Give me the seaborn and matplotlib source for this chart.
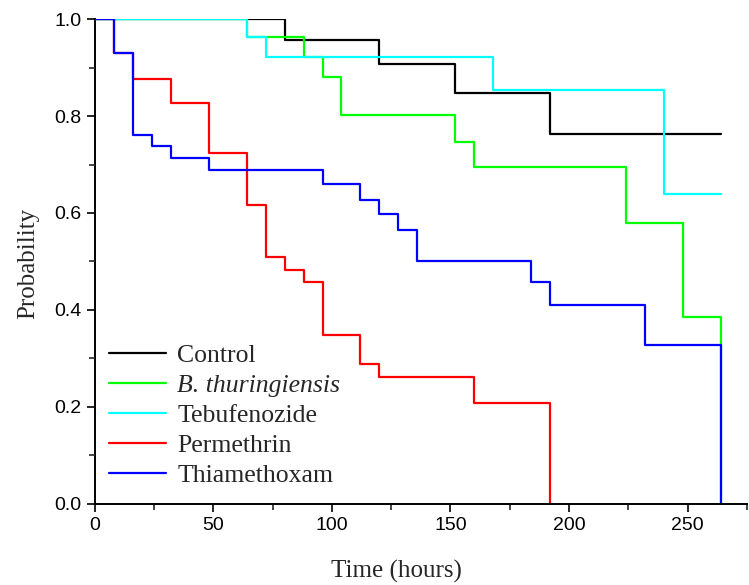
import numpy as np
import pandas as pd
import seaborn as sns
import matplotlib.pyplot as plt
from matplotlib.ticker import MultipleLocator

# survival curves (time in hours, probability)
control_t = [0, 80, 120, 152, 192, 264]
control_p = [1.0, 0.957, 0.907, 0.847, 0.763, 0.763]

bt_t = [0, 64, 88, 96, 104, 152, 160, 224, 248, 264]
bt_p = [1.0, 0.963, 0.922, 0.881, 0.803, 0.747, 0.695, 0.580, 0.386, 0.0]

tebu_t = [0, 64, 72, 168, 240, 264]
tebu_p = [1.0, 0.962, 0.922, 0.854, 0.639, 0.639]

perm_t = [0, 8, 16, 32, 48, 64, 72, 80, 88, 96, 112, 120, 160, 192]
perm_p = [1.0, 0.930, 0.877, 0.827, 0.724, 0.616, 0.509, 0.483, 0.457,
          0.349, 0.289, 0.261, 0.208, 0.0]

thia_t = [0, 8, 16, 24, 32, 48, 96, 112, 120, 128, 136, 184, 192, 232, 264]
thia_p = [1.0, 0.930, 0.761, 0.739, 0.714, 0.688, 0.660, 0.627, 0.598,
          0.565, 0.502, 0.457, 0.410, 0.327, 0.0]

groups = ["Control", "B. thuringiensis", "Tebufenozide", "Permethrin", "Thiamethoxam"]
colors = ["#000000", "#00ff00", "#00ffff", "#ff0000", "#0000ff"]

frames = []
for name, t, p in zip(groups,
                      [control_t, bt_t, tebu_t, perm_t, thia_t],
                      [control_p, bt_p, tebu_p, perm_p, thia_p]):
    frames.append(pd.DataFrame({"time": t, "prob": p, "group": name}))
df = pd.concat(frames, ignore_index=True)

sns.set_style("ticks")
plt.rcParams["font.family"] = ["Liberation Serif", "DejaVu Serif"]

fig = plt.figure(figsize=(7.49, 5.85), dpi=100)
ax = fig.add_axes([0.1268, 0.1385, 0.8702, 0.829])

sns.lineplot(
    data=df, x="time", y="prob", hue="group", hue_order=groups,
    palette=colors, estimator=None, sort=False,
    drawstyle="steps-post", linewidth=1.6, ax=ax,
)

ax.set_xlim(0, 275)
ax.set_ylim(0, 1.0)
ax.xaxis.set_major_locator(MultipleLocator(50))
ax.xaxis.set_minor_locator(MultipleLocator(25))
ax.yaxis.set_major_locator(MultipleLocator(0.2))
ax.yaxis.set_minor_locator(MultipleLocator(0.1))
ax.yaxis.set_major_formatter(plt.FormatStrFormatter("%.1f"))
ax.tick_params(which="major", direction="out", length=6, width=1.2,
               labelsize=14, colors="black")
ax.tick_params(which="minor", direction="out", length=4, width=1.2)
for lab in ax.get_xticklabels() + ax.get_yticklabels():
    lab.set_family(["Liberation Sans", "DejaVu Sans"])

for side in ["top", "right"]:
    ax.spines[side].set_visible(False)
for side in ["left", "bottom"]:
    ax.spines[side].set_linewidth(1.4)
    ax.spines[side].set_color("black")
ax.spines["left"].set_zorder(0)

ax.set_xlabel("Time (hours)", fontsize=18)
ax.set_ylabel("Probability", fontsize=18)
ax.xaxis.set_label_coords(0.462, -0.115)
ax.yaxis.set_label_coords(-0.085, 0.497)

handles, labels = ax.get_legend_handles_labels()
leg = ax.legend(handles, labels, loc="upper left", bbox_to_anchor=(0.0, 0.36),
                frameon=False, fontsize=18.5, handlelength=2.2,
                handletextpad=0.45, labelspacing=0.28, borderaxespad=0.15)
for line in leg.get_lines():
    line.set_linewidth(1.6)
leg.get_texts()[1].set_fontstyle("italic")

fig.savefig("out.png", dpi=100)
